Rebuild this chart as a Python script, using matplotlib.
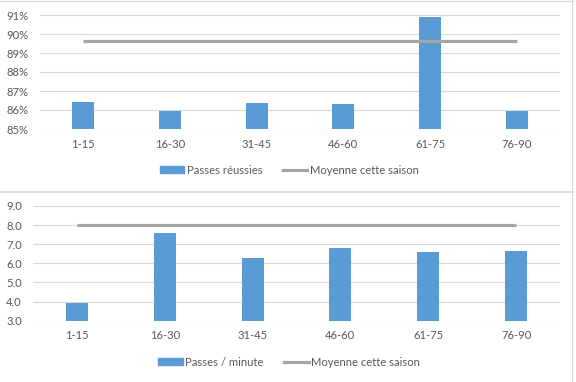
import matplotlib
matplotlib.use("Agg")
import matplotlib.pyplot as plt
from matplotlib.ticker import FuncFormatter, MultipleLocator
from matplotlib.lines import Line2D
from matplotlib.patches import Patch

categories = ["1-15", "16-30", "31-45", "46-60", "61-75", "76-90"]
passes_reussies = [0.8642, 0.8596, 0.8637, 0.8630, 0.9091, 0.8596]
moyenne_reussies = 0.8962
passes_minute = [3.93, 7.59, 6.30, 6.78, 6.60, 6.65]
moyenne_minute = 8.0

BAR = "#5B9BD5"
LINE = "#A5A5A5"
GRID = "#D9D9D9"
TXT = "#595959"
FS = 8.1

plt.rcParams['font.family'] = ['Lato', 'DejaVu Sans']

W, H = 576, 382
fig = plt.figure(figsize=(W / 100, H / 100), dpi=100)

def px_axes(left, right, top, bottom):
    return fig.add_axes([left / W, 1 - bottom / H, (right - left) / W, (bottom - top) / H])

def style(ax):
    for s in ax.spines.values():
        s.set_visible(False)
    ax.grid(axis="y", color=GRID, linewidth=0.8)
    ax.set_axisbelow(True)
    ax.tick_params(length=0, colors=TXT, labelsize=FS)
    ax.tick_params(axis="y", pad=8)
    ax.tick_params(axis="x", pad=7)

x = list(range(len(categories)))

def legend(handles, ypx):
    fig.legend(handles=handles, loc="center", bbox_to_anchor=(289 / W, 1 - ypx / H), ncol=2,
               frameon=False, fontsize=FS, labelcolor=TXT, handlelength=2.2, handleheight=0.5,
               handletextpad=0.2, columnspacing=1.8)

# Top chart
ax1 = px_axes(40, 560, 15, 129)
ax1.bar(x, passes_reussies, width=0.255, color=BAR, zorder=2)
ax1.plot([x[0], x[-1]], [moyenne_reussies] * 2, color=LINE, linewidth=2.3, zorder=3, solid_capstyle="butt")
ax1.set_xlim(-0.5, len(categories) - 0.5)
ax1.set_ylim(0.85, 0.91)
ax1.yaxis.set_major_locator(MultipleLocator(0.01))
ax1.yaxis.set_major_formatter(FuncFormatter(lambda v, p: f"{round(v * 100):d}%"))
ax1.set_xticks(x)
ax1.set_xticklabels(categories)
style(ax1)
legend([Patch(color=BAR, label="Passes réussies"),
        Line2D([], [], color=LINE, linewidth=2.3, label="Moyenne cette saison")], 170)

# Bottom chart
ax2 = px_axes(33, 560, 206, 320.7)
ax2.bar(x, passes_minute, width=0.25, color=BAR, zorder=2)
ax2.plot([x[0], x[-1]], [moyenne_minute] * 2, color=LINE, linewidth=2.3, zorder=3, solid_capstyle="butt")
ax2.set_xlim(-0.5, len(categories) - 0.5)
ax2.set_ylim(3, 9)
ax2.yaxis.set_major_locator(MultipleLocator(1))
ax2.yaxis.set_major_formatter(FuncFormatter(lambda v, p: f"{v:.1f}"))
ax2.set_xticks(x)
ax2.set_xticklabels(categories)
style(ax2)
legend([Patch(color=BAR, label="Passes / minute"),
        Line2D([], [], color=LINE, linewidth=2.3, label="Moyenne cette saison")], 362)

# Panel borders
border = "#D9D9D9"
fig.add_artist(Line2D([0, 573 / W], [1 - 1 / H] * 2, color=border, linewidth=1.0, transform=fig.transFigure))
fig.add_artist(Line2D([0, 573 / W], [1 - 192 / H] * 2, color=border, linewidth=1.2, transform=fig.transFigure))
fig.add_artist(Line2D([572 / W] * 2, [0, 1], color=border, linewidth=0.8, transform=fig.transFigure))

fig.savefig("out.png", dpi=100, facecolor="white")
